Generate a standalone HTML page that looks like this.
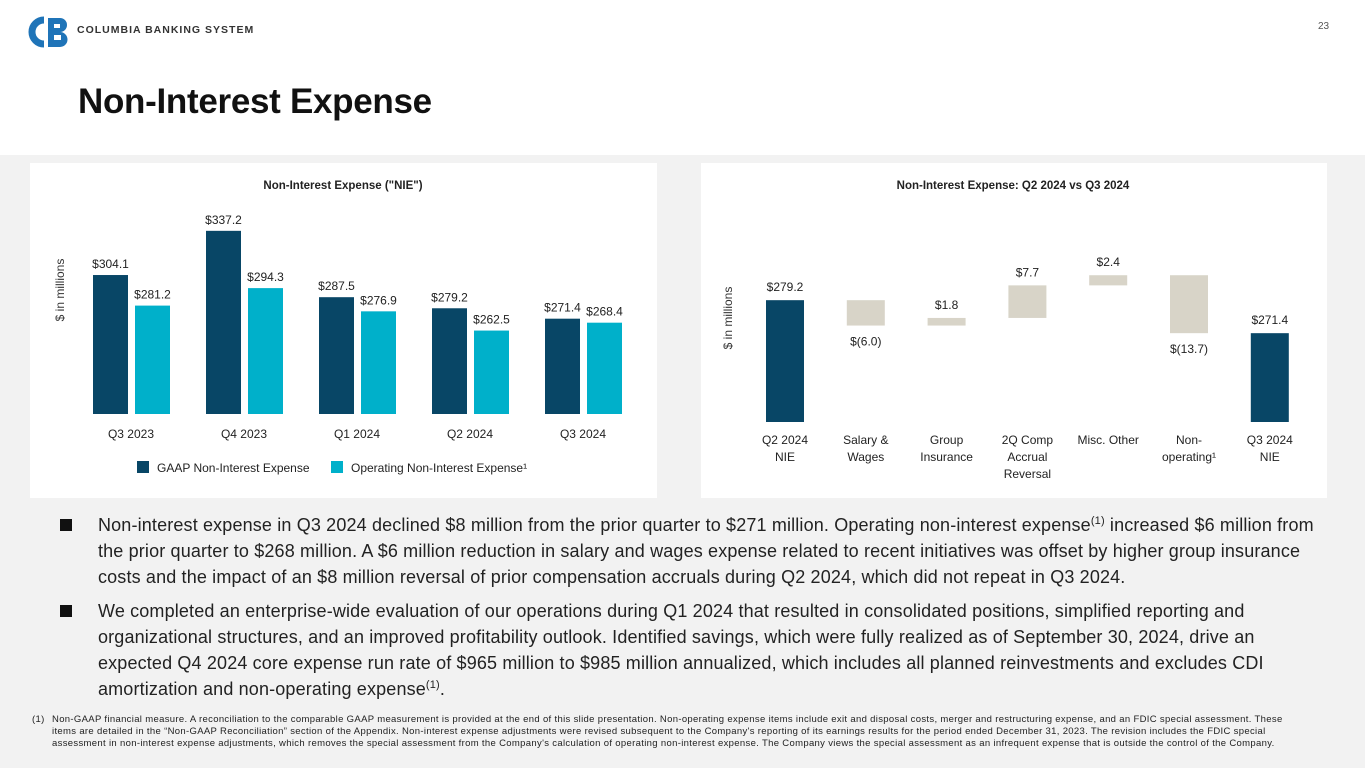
<!DOCTYPE html>
<html><head><meta charset="utf-8"><style>
body{margin:0;width:1365px;height:768px;position:relative;background:#f2f2f2;font-family:"Liberation Sans",sans-serif;overflow:hidden}
.a{position:absolute}
.b{font-size:18px;line-height:26px;color:#222;letter-spacing:0.15px;white-space:nowrap}
.fn{font-size:9.5px;line-height:11.8px;color:#222;letter-spacing:0.33px;white-space:nowrap}
.sq{position:absolute;left:0;top:7px;width:12px;height:12px;background:#111}
</style></head><body>
<div class="a" style="left:0;top:0;width:1365px;height:155px;background:#fff"></div>
<svg class="a" style="left:24px;top:16px" width="46" height="32" viewBox="0 0 46 32">
<path d="M20 4 A12 12 0 1 0 20 28" stroke="#1f74b8" stroke-width="7" fill="none"/>
<path d="M24 2 h12 a7 7 0 0 1 0 14 a7.5 7.5 0 0 1 0 15 h-12z" fill="#1f74b8"/>
<rect x="30" y="8" width="6" height="4" fill="#fff"/><rect x="30" y="19" width="7" height="5" fill="#fff"/></svg>
<div class="a" style="left:77px;top:24px;font-size:10.5px;font-weight:bold;letter-spacing:1px;color:#333">COLUMBIA BANKING SYSTEM</div>
<div class="a" style="left:1318px;top:21px;font-size:10px;color:#555">23</div>
<div class="a" style="left:78px;top:82px;font-size:35px;font-weight:bold;color:#111;letter-spacing:-0.3px">Non-Interest Expense</div>

<svg class="a" style="left:30px;top:163px" width="627" height="335" id="c1"></svg>
<svg class="a" style="left:701px;top:163px" width="626" height="335" id="c2"></svg>

<div class="a b" style="left:60px;top:512px;width:1280px">
<span class="sq"></span>
<div style="margin-left:38px">Non-interest expense in Q3 2024 declined $8 million from the prior quarter to $271 million. Operating non-interest expense<sup style="font-size:11px;line-height:0">(1)</sup> increased $6 million from<br>the prior quarter to $268 million. A $6 million reduction in salary and wages expense related to recent initiatives was offset by higher group insurance<br>costs and the impact of an $8 million reversal of prior compensation accruals during Q2 2024, which did not repeat in Q3 2024.</div></div>
<div class="a b" style="left:60px;top:598px;width:1280px">
<span class="sq"></span>
<div style="margin-left:38px">We completed an enterprise-wide evaluation of our operations during Q1 2024 that resulted in consolidated positions, simplified reporting and<br>organizational structures, and an improved profitability outlook. Identified savings, which were fully realized as of September 30, 2024, drive an<br>expected Q4 2024 core expense run rate of $965 million to $985 million annualized, which includes all planned reinvestments and excludes CDI<br>amortization and non-operating expense<sup style="font-size:11px;line-height:0">(1)</sup>.</div></div>
<div class="a fn" style="left:32px;top:714px;width:1305px">
<span class="a" style="left:0">(1)</span><div style="margin-left:20px">Non-GAAP financial measure. A reconciliation to the comparable GAAP measurement is provided at the end of this slide presentation. Non-operating expense items include exit and disposal costs, merger and restructuring expense, and an FDIC special assessment. These<br>items are detailed in the “Non-GAAP Reconciliation” section of the Appendix. Non-interest expense adjustments were revised subsequent to the Company's reporting of its earnings results for the period ended December 31, 2023. The revision includes the FDIC special<br>assessment in non-interest expense adjustments, which removes the special assessment from the Company's calculation of operating non-interest expense. The Company views the special assessment as an infrequent expense that is outside the control of the Company.</div></div>

<script>
const quarters=["Q3 2023","Q4 2023","Q1 2024","Q2 2024","Q3 2024"];
const gaap=[304.1,337.2,287.5,279.2,271.4];
const operating=[281.2,294.3,276.9,262.5,268.4];
const wfCats=[["Q2 2024","NIE"],["Salary &","Wages"],["Group","Insurance"],["2Q Comp","Accrual","Reversal"],["Misc. Other"],["Non-","operating¹"],["Q3 2024","NIE"]];
const wfDeltas=[279.2,-6.0,1.8,7.7,2.4,-13.7,271.4];
const wfLabels=["$279.2","$(6.0)","$1.8","$7.7","$2.4","$(13.7)","$271.4"];
const NS="http://www.w3.org/2000/svg";
function mk(p,t,a,txt){const e=document.createElementNS(NS,t);for(const k in a)e.setAttribute(k,a[k]);if(txt!==undefined)e.textContent=txt;p.appendChild(e);return e;}
(function(){
const s=document.getElementById('c1');
mk(s,'rect',{x:0,y:0,width:627,height:335,fill:'#fff'});
const t=mk(s,'text',{x:313,y:26,'text-anchor':'middle','font-size':11.5,'font-weight':'bold',fill:'#222'},'Non-Interest Expense ("NIE")');

const ya=mk(s,'text',{x:0,y:0,transform:'translate(34,127) rotate(-90)','text-anchor':'middle','font-size':12,fill:'#333'},'$ in millions');

const base=251,min=200,k=1.335;
const y=v=>base-(v-min)*k;
const gx=i=>63+i*113;
quarters.forEach((q,i)=>{
 [[gaap,'#084666',0],[operating,'#00b0ca',42]].forEach(([arr,c,off],j)=>{
  const r=mk(s,'rect',{x:gx(i)+off,y:y(arr[i]),width:35,height:base-y(arr[i]),fill:c});
  
  const l=mk(s,'text',{x:gx(i)+off+17.5,y:y(arr[i])-7,'text-anchor':'middle','font-size':12,fill:'#222'},'$'+arr[i].toFixed(1));
  
 });
 const xl=mk(s,'text',{x:gx(i)+38,y:275,'text-anchor':'middle','font-size':12,fill:'#222'},q);
 
});
const lg=mk(s,'g',{});
mk(lg,'rect',{x:107,y:298,width:12,height:12,fill:'#084666'});
mk(lg,'text',{x:127,y:309,'font-size':12,fill:'#222'},'GAAP Non-Interest Expense');
mk(lg,'rect',{x:301,y:298,width:12,height:12,fill:'#00b0ca'});
mk(lg,'text',{x:321,y:309,'font-size':12,fill:'#222'},'Operating Non-Interest Expense¹');
})();
(function(){
const s=document.getElementById('c2');
mk(s,'rect',{x:0,y:0,width:626,height:335,fill:'#fff'});
const t=mk(s,'text',{x:312,y:26,'text-anchor':'middle','font-size':11.5,'font-weight':'bold',fill:'#222'},'Non-Interest Expense: Q2 2024 vs Q3 2024');

const ya=mk(s,'text',{x:0,y:0,transform:'translate(31,155) rotate(-90)','text-anchor':'middle','font-size':12,fill:'#333'},'$ in millions');

const base=259,min=250.4,k=4.23;
const y=v=>base-(v-min)*k;
const cx=i=>84+i*80.8;
let run=0;
wfDeltas.forEach((d,i)=>{
 let top,bot,c;
 if(i==0||i==wfDeltas.length-1){top=y(d);bot=base;c='#084666';run=d;}
 else{const a=run,b=run+d;top=y(Math.max(a,b));bot=y(Math.min(a,b));c='#d8d4c8';run=b;}
 const r=mk(s,'rect',{x:cx(i)-19,y:top,width:38,height:bot-top,fill:c});
 
 const ly=d<0?bot+20:top-9;
 const l=mk(s,'text',{x:cx(i),y:ly,'text-anchor':'middle','font-size':12,fill:'#222'},wfLabels[i]);
 
 wfCats[i].forEach((ln,j)=>{
  const xl=mk(s,'text',{x:cx(i),y:281+j*17,'text-anchor':'middle','font-size':12,fill:'#222'},ln);
  
 });
});
})();
</script>
</body></html>
